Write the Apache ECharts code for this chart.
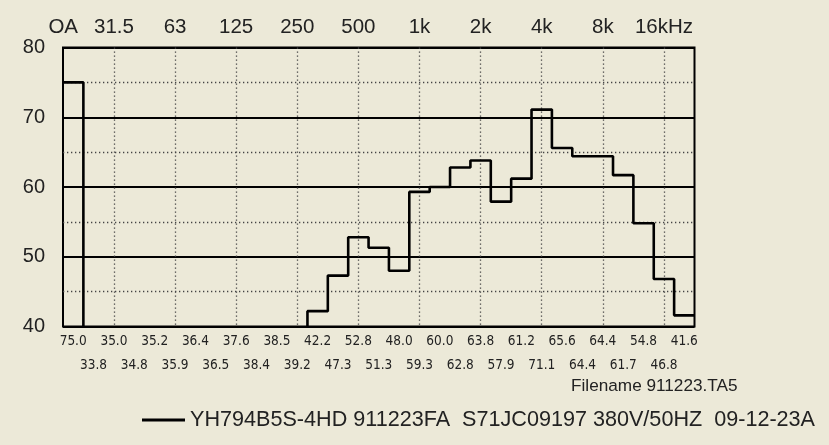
<!DOCTYPE html>
<html>
<head>
<meta charset="utf-8">
<script src="https://cdn.jsdelivr.net/npm/echarts@6/dist/echarts.min.js"></script>
<style>
html, body { margin: 0; padding: 0; background: #ECE9D8; }
#chart { width: 829px; height: 445px; }
</style>
</head>
<body>
<div id="chart"></div>
<script>
// 1/3 octave bands, OA first
const bands = ['OA', '25', '31.5', '40', '50', '63', '80', '100', '125', '160', '200', '250', '315', '400', '500',
    '630', '800', '1k', '1.25k', '1.6k', '2k', '2.5k', '3.15k', '4k', '5k', '6.3k', '8k', '10k', '12.5k', '16k', '20k']
const bandLabels = ['OA', '', '31.5', '', '', '63', '', '', '125', '', '', '250', '', '', '500',
    '', '', '1k', '', '', '2k', '', '', '4k', '', '', '8k', '', '', '16kHz', '']
const levels = [75.0, 33.8, 35.0, 34.8, 35.2, 35.9, 36.4, 36.5, 37.6, 38.4, 38.5, 39.2, 42.2, 47.3, 52.8,
    51.3, 48.0, 59.3, 60.0, 62.8, 63.8, 57.9, 61.2, 71.1, 65.6, 64.4, 64.4, 61.7, 54.8, 46.8, 41.6]
const yTicks = [40, 50, 60, 70, 80]
const seriesName = 'YH794B5S-4HD 911223FA  S71JC09197 380V/50HZ  09-12-23A'
const fileName = 'Filename 911223.TA5'

let chart = echarts.init(document.getElementById('chart'), null, { renderer: 'canvas' })

// each band is one unit wide on the x value axis
let steps = levels.map((v, i) => [i, v])
steps.push([levels.length, levels[levels.length - 1]])

const font = 'Liberation Sans, Arial, sans-serif'
const narrow = 'Liberation Sans Narrow, DejaVu Sans Condensed, Arial Narrow, sans-serif'
const dotted = { color: '#444', width: 1.3, type: [1.3, 2.7] }

chart.setOption({
    backgroundColor: '#ECE9D8',
    animation: false,
    title: {
        text: fileName,
        left: 566,
        top: 373,
        textStyle: { fontFamily: font, fontSize: 17.2, fontWeight: 'normal', color: '#222' },
    },
    legend: {
        left: 137,
        top: 404,
        itemWidth: 43,
        itemHeight: 3,
        icon: 'rect',
        textStyle: { fontFamily: font, fontSize: 21.6, color: '#222' },
        data: [seriesName],
    },
    grid: {
        show: true,
        left: 63,
        top: 47.5,
        right: 134.5,
        bottom: 118.5,
        borderColor: '#000',
        borderWidth: 2,
        backgroundColor: 'transparent',
    },
    xAxis: [
        {
            type: 'value',
            min: 0,
            max: bands.length,
            show: false,
        },
        {
            type: 'category',
            position: 'top',
            data: bands,
            axisLine: { show: false },
            axisTick: { show: false },
            axisLabel: {
                interval: 0,
                margin: 10,
                fontFamily: font,
                fontSize: 20.5,
                color: '#222',
                formatter: (v, i) => bandLabels[i] === 'OA' ? '{oa|OA}' : bandLabels[i],
                rich: { oa: { fontFamily: font, fontSize: 20.5, color: '#222', padding: [0, 20, 0, 0] } },
            },
            splitLine: {
                show: true,
                alignWithLabel: true,
                interval: (i) => i > 0 && bandLabels[i] !== '',
                lineStyle: dotted,
            },
        },
        {
            type: 'category',
            position: 'bottom',
            data: levels.map(v => v.toFixed(1)),
            axisLine: { show: false },
            axisTick: { show: false },
            axisLabel: {
                interval: (i) => i % 2 === 0,
                margin: 8,
                fontFamily: narrow,
                fontSize: 13.5,
                color: '#222',
            },
        },
        {
            type: 'category',
            position: 'bottom',
            offset: 23,
            data: levels.map(v => v.toFixed(1)),
            axisLine: { show: false },
            axisTick: { show: false },
            axisLabel: {
                interval: (i) => i % 2 === 1,
                margin: 9,
                fontFamily: narrow,
                fontSize: 13.5,
                color: '#222',
            },
        },
    ],
    yAxis: {
        type: 'value',
        min: yTicks[0],
        max: yTicks[yTicks.length - 1],
        interval: 10,
        axisLine: { show: false },
        axisTick: { show: false },
        axisLabel: {
            margin: 18,
            fontFamily: font,
            fontSize: 20,
            color: '#222',
            padding: [6, 0, 0, 0],
        },
        splitLine: { lineStyle: { color: '#000', width: 2 } },
        minorTick: { show: false, splitNumber: 2 },
        minorSplitLine: { show: true, lineStyle: dotted },
    },
    series: [
        {
            name: seriesName,
            type: 'line',
            xAxisIndex: 0,
            step: 'end',
            symbol: 'none',
            clip: true,
            lineStyle: { color: '#000', width: 2.6 },
            itemStyle: { color: '#000' },
            data: steps,
        },
    ],
})
</script>
</body>
</html>
